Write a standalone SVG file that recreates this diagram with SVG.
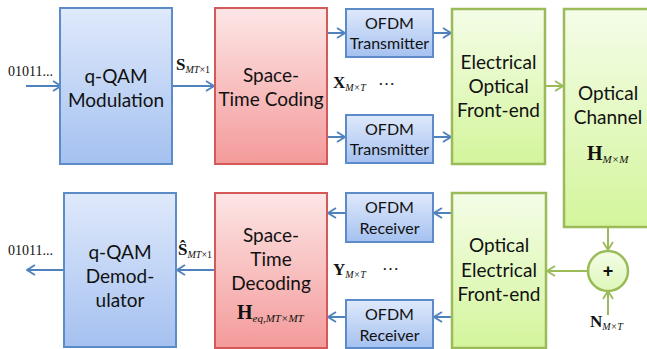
<svg xmlns="http://www.w3.org/2000/svg" width="647" height="349" viewBox="0 0 647 349">
<defs>
<linearGradient id="gb" x1="0" y1="0" x2="0" y2="1"><stop offset="0" stop-color="#dfe9fb"/><stop offset="1" stop-color="#a5c1f0"/></linearGradient>
<linearGradient id="gr" x1="0" y1="0" x2="0" y2="1"><stop offset="0" stop-color="#fde6e6"/><stop offset="1" stop-color="#f49a9a"/></linearGradient>
<linearGradient id="gg" x1="0" y1="0" x2="0" y2="1"><stop offset="0" stop-color="#f4fde8"/><stop offset="1" stop-color="#d4f59c"/></linearGradient>
<linearGradient id="gc" x1="0" y1="0" x2="0" y2="1"><stop offset="0" stop-color="#f4fde8"/><stop offset="1" stop-color="#def7b8"/></linearGradient>
<marker id="ab" viewBox="0 0 10 12" refX="9" refY="6" markerWidth="10" markerHeight="12" orient="auto" markerUnits="userSpaceOnUse"><path d="M1,1 L9,6 L1,11" fill="none" stroke="#4f81bd" stroke-width="1.8"/></marker>
<marker id="ag" viewBox="0 0 10 12" refX="9" refY="6" markerWidth="10" markerHeight="12" orient="auto" markerUnits="userSpaceOnUse"><path d="M1,1 L9,6 L1,11" fill="none" stroke="#9bbb59" stroke-width="1.8"/></marker>
</defs>
<style>
.b{fill:url(#gb);stroke:#5b8bc9;stroke-width:2}
.r{fill:url(#gr);stroke:#d35a58;stroke-width:2}
.g{fill:url(#gg);stroke:#9bbb59;stroke-width:2.5}
.t{font-family:Lato,"Open Sans",sans-serif;font-size:19px;fill:#111;text-anchor:middle}
.s{font-family:Lato,"Open Sans",sans-serif;font-size:16px;fill:#111;text-anchor:middle}
.m{font-family:"Liberation Serif",serif;font-size:17px;font-weight:bold;fill:#111}
.i{font-family:"Liberation Serif",serif;font-size:10px;font-style:italic;font-weight:normal}
.bits{font-family:"Liberation Serif",serif;font-size:14px;fill:#111}
.lb{stroke:#4f81bd;stroke-width:2;fill:none;marker-end:url(#ab)}
.lg{stroke:#9bbb59;stroke-width:2;fill:none;marker-end:url(#ag)}
</style>

<g id="connectors">
<line class="lb" x1="26" y1="86" x2="61" y2="86"/>
<line class="lb" x1="172" y1="86" x2="214" y2="86"/>
<line class="lb" x1="327" y1="33" x2="345" y2="33"/>
<line class="lb" x1="327" y1="137" x2="345" y2="137"/>
<line class="lb" x1="433" y1="33" x2="451" y2="33"/>
<line class="lb" x1="433" y1="137" x2="451" y2="137"/>
<line class="lg" x1="545" y1="86" x2="563" y2="86"/>
<line class="lg" x1="608" y1="227" x2="608" y2="250"/>
<line class="lg" x1="608" y1="315" x2="608" y2="291"/>
<line class="lg" x1="588" y1="271" x2="547" y2="271"/>
<line class="lb" x1="452" y1="213" x2="434" y2="213"/>
<line class="lb" x1="452" y1="317" x2="434" y2="317"/>
<line class="lb" x1="346" y1="213" x2="328" y2="213"/>
<line class="lb" x1="346" y1="317" x2="328" y2="317"/>
<line class="lb" x1="215" y1="270" x2="177" y2="270"/>
<line class="lb" x1="64" y1="270" x2="27" y2="270"/>
</g>

<text class="bits" x="8" y="76">01011...</text>
<text class="bits" x="8" y="255">01011...</text>

<g id="mod">
<rect class="b" x="60" y="8" width="112" height="156"/>
<text class="t" x="116" y="83">q-QAM</text>
<text class="t" x="116" y="107">Modulation</text>
</g>
<text class="m" x="176" y="70">S<tspan class="i" dy="3">MT</tspan><tspan class="i" style="font-style:normal">×1</tspan></text>

<g id="stc">
<rect class="r" x="215" y="8" width="112" height="156"/>
<text class="t" x="271" y="82">Space-</text>
<text class="t" x="271" y="106">Time Coding</text>
</g>

<g id="tx1">
<rect class="b" x="346" y="9" width="87" height="48"/>
<text class="s" x="389.5" y="29">OFDM</text>
<text class="s" x="389.5" y="49">Transmitter</text>
</g>
<g id="tx2">
<rect class="b" x="346" y="115" width="87" height="48"/>
<text class="s" x="389.5" y="135">OFDM</text>
<text class="s" x="389.5" y="155">Transmitter</text>
</g>
<text class="m" x="333" y="88">X<tspan class="i" dy="3">M×T</tspan></text>
<text class="m" x="378" y="85" style="font-weight:normal">…</text>

<g id="eo">
<rect class="g" x="452" y="9" width="93" height="155"/>
<text class="t" x="498.5" y="69">Electrical</text>
<text class="t" x="498.5" y="93">Optical</text>
<text class="t" x="498.5" y="117">Front-end</text>
</g>

<g id="channel">
<rect class="g" x="564" y="9" width="100" height="218"/>
<text class="t" x="608" y="100">Optical</text>
<text class="t" x="608" y="124">Channel</text>
<text class="m" x="587" y="160" style="font-size:20px">H<tspan class="i" dy="3" style="font-size:11px">M×M</tspan></text>
</g>

<g id="sum">
<circle cx="608" cy="271" r="20" fill="url(#gc)" stroke="#9bbb59" stroke-width="2.5"/>
<text x="608" y="277" style="font-family:'Liberation Sans',sans-serif;font-size:18px;font-weight:bold;fill:#111;text-anchor:middle">+</text>
</g>
<text class="m" x="590" y="327">N<tspan class="i" dy="3">M×T</tspan></text>

<g id="oe">
<rect class="g" x="452" y="193" width="94" height="155"/>
<text class="t" x="499" y="252">Optical</text>
<text class="t" x="499" y="277">Electrical</text>
<text class="t" x="499" y="301">Front-end</text>
</g>

<g id="rx1">
<rect class="b" x="346" y="193" width="87" height="49"/>
<text class="s" x="389.5" y="213">OFDM</text>
<text class="s" x="389.5" y="234">Receiver</text>
</g>
<g id="rx2">
<rect class="b" x="346" y="300" width="87" height="48"/>
<text class="s" x="389.5" y="320">OFDM</text>
<text class="s" x="389.5" y="341">Receiver</text>
</g>
<text class="m" x="333" y="275">Y<tspan class="i" dy="3">M×T</tspan></text>
<text class="m" x="382" y="270" style="font-weight:normal">…</text>

<g id="std">
<rect class="r" x="215" y="193" width="112" height="155"/>
<text class="t" x="271" y="242">Space-</text>
<text class="t" x="271" y="266">Time</text>
<text class="t" x="271" y="290">Decoding</text>
<text class="m" x="237" y="319" style="font-size:20px">H<tspan class="i" dy="3" style="font-size:11px">eq,MT×MT</tspan></text>
</g>

<g id="demod">
<rect class="b" x="64" y="193" width="112" height="154"/>
<text class="t" x="120" y="259">q-QAM</text>
<text class="t" x="120" y="283">Demod-</text>
<text class="t" x="120" y="307">ulator</text>
</g>
<text class="m" x="178" y="255">Ŝ<tspan class="i" dy="3">MT</tspan><tspan class="i" style="font-style:normal">×1</tspan></text>
</svg>
